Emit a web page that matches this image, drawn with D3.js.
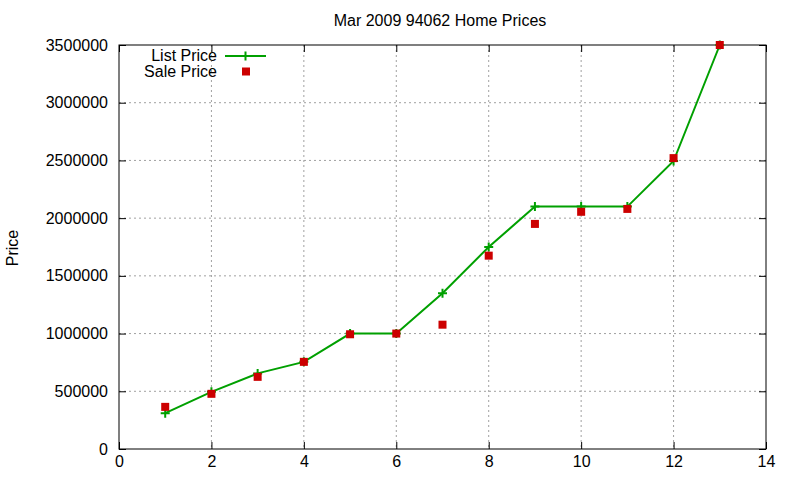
<!DOCTYPE html>
<html lang="en">
<head>
  <meta charset="utf-8">
  <title>Mar 2009 94062 Home Prices</title>
  <script src="https://d3js.org/d3.v7.min.js"></script>
  <style>
    html, body { margin:0; padding:0; background:#fff; }
    svg text { font-family: "Liberation Sans", Arial, sans-serif; fill:#000; }
  </style>
</head>
<body>
  <div id="chart"></div>
  <script>
    // ─── Data ─────────────────────────────────────────────────────────────
    const months     = [1, 2, 3, 4, 5, 6, 7, 8, 9, 10, 11, 12, 13];
    const listPrices = [310000, 495000, 655000, 755000, 1000000, 1000000, 1350000,
                        1750000, 2100000, 2100000, 2100000, 2495000, 3500000];
    const salePrices = [365000, 478000, 625000, 755000, 994000, 1000000, 1077000,
                        1675000, 1950000, 2055000, 2080000, 2520000, 3500000];
    const xTicks = [0, 2, 4, 6, 8, 10, 12, 14];
    const yTicks = [0, 500000, 1000000, 1500000, 2000000, 2500000, 3000000, 3500000];
    // ───────────────────────────────────────────────────────────────────────

    const W = 800, H = 480;
    const margin = { top: 45, right: 34, bottom: 31, left: 119 };
    const w = W - margin.left - margin.right;
    const h = H - margin.top - margin.bottom;
    const green = "#00a000", red = "#cc0000";
    const fs = "16px";

    const svg = d3.select("#chart").append("svg")
      .attr("width", W).attr("height", H);

    const g = svg.append("g")
      .attr("transform", `translate(${margin.left},${margin.top})`);

    const x = d3.scaleLinear().domain([0, 14]).range([0, w]);
    const y = d3.scaleLinear().domain([0, 3500000]).range([h, 0]);

    // Grid
    g.append("g").selectAll("line").data(xTicks.slice(1, -1)).join("line")
      .attr("x1", d => x(d)).attr("x2", d => x(d))
      .attr("y1", 0).attr("y2", h)
      .attr("stroke", "#a0a0a0").attr("stroke-dasharray", "2,3");
    g.append("g").selectAll("line").data(yTicks.slice(1, -1)).join("line")
      .attr("x1", 0).attr("x2", w)
      .attr("y1", d => y(d)).attr("y2", d => y(d))
      .attr("stroke", "#a0a0a0").attr("stroke-dasharray", "2,3");

    // Axes (inward ticks, mirrored like gnuplot)
    const styleAxis = sel => {
      sel.select(".domain").remove();
      sel.selectAll("line").attr("stroke", "#000");
      sel.selectAll("text").style("font-size", fs);
    };
    g.append("g").attr("transform", `translate(0,${h})`)
      .call(d3.axisBottom(x).tickValues(xTicks).tickSize(-7).tickPadding(7)
        .tickFormat(d3.format("d")))
      .call(styleAxis);
    g.append("g")
      .call(d3.axisTop(x).tickValues(xTicks).tickSize(-7).tickFormat(""))
      .call(styleAxis);
    g.append("g")
      .call(d3.axisLeft(y).tickValues(yTicks).tickSize(-7).tickPadding(11)
        .tickFormat(d3.format("d")))
      .call(styleAxis);
    g.append("g").attr("transform", `translate(${w},0)`)
      .call(d3.axisRight(y).tickValues(yTicks).tickSize(-7).tickFormat(""))
      .call(styleAxis);

    g.append("rect")
      .attr("width", w).attr("height", h)
      .attr("fill", "none").attr("stroke", "#000").attr("stroke-width", 1);

    // Series
    const listData = months.map((m, i) => ({ x: m, y: listPrices[i] }));
    const saleData = months.map((m, i) => ({ x: m, y: salePrices[i] }));

    g.append("path")
      .datum(listData)
      .attr("d", d3.line().x(d => x(d.x)).y(d => y(d.y)))
      .attr("fill", "none").attr("stroke", green).attr("stroke-width", 2);

    const plus = (sel, s) => sel.append("path")
      .attr("d", `M${-s},0H${s}M0,${-s}V${s}`)
      .attr("stroke", green).attr("stroke-width", 2);

    g.append("g").selectAll("g").data(listData).join("g")
      .attr("transform", d => `translate(${x(d.x)},${y(d.y)})`)
      .each(function() { plus(d3.select(this), 4.5); });

    g.append("g").selectAll("rect").data(saleData).join("rect")
      .attr("x", d => x(d.x) - 4).attr("y", d => y(d.y) - 4)
      .attr("width", 8).attr("height", 8)
      .attr("fill", red);

    // Title & labels
    svg.append("text")
      .attr("x", 440).attr("y", 26)
      .attr("text-anchor", "middle").style("font-size", fs)
      .text("Mar 2009 94062 Home Prices");

    svg.append("text")
      .attr("transform", "translate(18,248) rotate(-90)")
      .attr("text-anchor", "middle").style("font-size", fs)
      .text("Price");

    // Legend
    const legend = svg.append("g");
    legend.append("text").attr("x", 217).attr("y", 61)
      .attr("text-anchor", "end").style("font-size", fs).text("List Price");
    legend.append("line")
      .attr("x1", 225).attr("x2", 266).attr("y1", 56).attr("y2", 56)
      .attr("stroke", green).attr("stroke-width", 2);
    plus(legend.append("g").attr("transform", "translate(245.5,56)"), 4.5);

    legend.append("text").attr("x", 217).attr("y", 77)
      .attr("text-anchor", "end").style("font-size", fs).text("Sale Price");
    legend.append("rect")
      .attr("x", 242).attr("y", 67.5).attr("width", 8).attr("height", 8)
      .attr("fill", red);
  </script>
</body>
</html>
